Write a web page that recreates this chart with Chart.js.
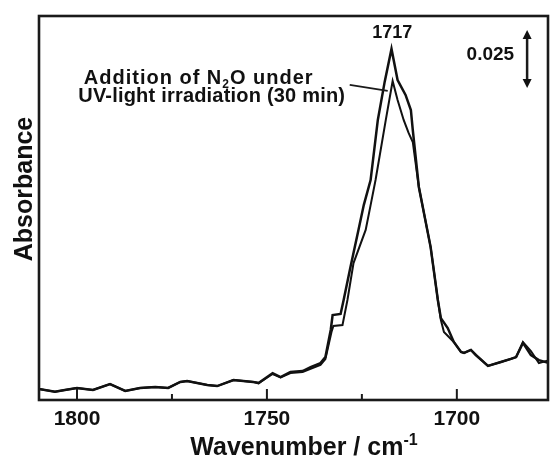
<!DOCTYPE html>
<html>
<head>
<meta charset="utf-8">
<script src="https://cdn.jsdelivr.net/npm/chart.js@4.4.1/dist/chart.umd.min.js"></script>
<style>
  html, body { margin: 0; padding: 0; background: #fff; }
  #wrap { width: 550px; height: 457px; }
</style>
</head>
<body>
<div id="wrap"><canvas id="irChart" width="550" height="457"></canvas></div>
<script>
// Spectrum data (wavenumber / cm-1, absorbance)
const wavenumberA = [1810, 1805.8, 1803.2, 1800, 1795.8, 1791.3, 1787.3, 1783.4, 1779.4, 1776,
  1772.8, 1771, 1765.7, 1763.1, 1758.8, 1753.6, 1752.2, 1748.5, 1746.4, 1743.8,
  1740.6, 1738.5, 1735.9, 1734.6, 1733.2, 1732.7, 1730.6, 1729.8, 1728.0, 1725.9,
  1724.5, 1722.7, 1720.8, 1719.0, 1717.2, 1715.6, 1713.5, 1712.1, 1711.6, 1710.0,
  1706.9, 1705.0, 1704.2, 1702.4, 1700.8, 1698.9, 1698.1, 1696.3, 1695.0, 1691.8,
  1688.4, 1685.8, 1684.4, 1682.6, 1680.5, 1678.4, 1675.7];
const absorbanceA = [0.0047, 0.0036, 0.0043, 0.0052, 0.0043, 0.0069, 0.0039, 0.0052, 0.0056, 0.0052,
  0.0078, 0.0082, 0.0065, 0.0060, 0.0086, 0.0078, 0.0073, 0.0116, 0.0099, 0.0121,
  0.0125, 0.0142, 0.0159, 0.0185, 0.0302, 0.0366, 0.0371, 0.0431, 0.0573, 0.0733,
  0.0840, 0.0948, 0.1207, 0.1371, 0.1513, 0.1379, 0.1315, 0.1250, 0.1164, 0.0918,
  0.0659, 0.0431, 0.0353, 0.0310, 0.0250, 0.0207, 0.0203, 0.0216, 0.0194, 0.0147,
  0.0164, 0.0177, 0.0185, 0.0246, 0.0194, 0.0172, 0.0159];

const wavenumberB = [1810, 1805.8, 1803.2, 1800, 1795.8, 1791.3, 1787.3, 1783.4, 1779.4, 1776,
  1772.8, 1771, 1765.7, 1763.1, 1758.8, 1753.6, 1752.2, 1748.5, 1746.4, 1743.8,
  1740.6, 1738.5, 1735.9, 1734.6, 1733.0, 1732.5, 1730.1, 1728.8, 1727.2, 1724.0,
  1722.7, 1721.4, 1718.7, 1716.9, 1715.6, 1714.0, 1712.7, 1711.6, 1710.0, 1706.9,
  1705.0, 1704.2, 1703.4, 1700.8, 1698.9, 1698.1, 1696.3, 1695.0, 1691.8, 1688.4,
  1685.8, 1684.4, 1682.6, 1680.5, 1678.4, 1675.7];
const absorbanceB = [0.0047, 0.0036, 0.0043, 0.0052, 0.0043, 0.0069, 0.0039, 0.0052, 0.0056, 0.0052,
  0.0078, 0.0082, 0.0065, 0.0060, 0.0086, 0.0078, 0.0073, 0.0112, 0.0097, 0.0116,
  0.0121, 0.0134, 0.0151, 0.0177, 0.0293, 0.0319, 0.0323, 0.0431, 0.0590, 0.0733,
  0.0840, 0.0948, 0.1207, 0.1375, 0.1293, 0.1207, 0.1151, 0.1112, 0.0918, 0.0659,
  0.0431, 0.0345, 0.0293, 0.0250, 0.0207, 0.0203, 0.0216, 0.0194, 0.0147, 0.0164,
  0.0177, 0.0185, 0.0250, 0.0211, 0.0159, 0.0172];

const peakPosition = 1717;
const scaleBarValue = 0.025;
const xRange = [1676, 1810];
const yRange = [0, 0.1655];

const FONT = '"Liberation Sans", Arial, sans-serif';
const toPoints = (xs, ys) => xs.map((v, i) => ({ x: v, y: ys[i] }));

// draws text runs (normal / sub / sup) centred on cx
function drawRuns(ctx, runs, cx, baseY, size, spacing) {
  ctx.letterSpacing = (spacing || 0) + 'px';
  let total = 0;
  runs.forEach(r => {
    ctx.font = 'bold ' + (r.small ? Math.round(size * 0.62) : size) + 'px ' + FONT;
    r.w = ctx.measureText(r.t).width;
    total += r.w;
  });
  let x = cx - total / 2;
  ctx.textAlign = 'left';
  ctx.textBaseline = 'alphabetic';
  runs.forEach(r => {
    ctx.font = 'bold ' + (r.small ? Math.round(size * 0.62) : size) + 'px ' + FONT;
    const dy = r.small === 'sub' ? size * 0.22 : r.small === 'sup' ? -size * 0.42 : 0;
    ctx.fillText(r.t, x, baseY + dy);
    x += r.w;
  });
  ctx.letterSpacing = '0px';
}

const decorations = {
  id: 'decorations',
  afterDraw(chart) {
    const { ctx, chartArea: a, scales: { x, y } } = chart;
    ctx.save();
    ctx.strokeStyle = '#1a1a1a';
    ctx.fillStyle = '#111';

    // frame
    ctx.lineWidth = 2.6;
    ctx.strokeRect(a.left, a.top, a.right - a.left, a.bottom - a.top);

    // inward ticks on the x axis
    ctx.lineWidth = 2;
    x.ticks.forEach(t => {
      const px = x.getPixelForValue(t.value);
      const len = t.value % 50 === 0 ? 11 : 6;
      ctx.beginPath();
      ctx.moveTo(px, a.bottom);
      ctx.lineTo(px, a.bottom - len);
      ctx.stroke();
    });

    // axis titles
    ctx.save();
    ctx.translate(25, 189);
    ctx.rotate(-Math.PI / 2);
    ctx.font = 'bold 25px ' + FONT;
    ctx.textAlign = 'center';
    ctx.textBaseline = 'middle';
    ctx.fillText('Absorbance', 0, 0);
    ctx.restore();
    drawRuns(ctx, [{ t: 'Wavenumber / cm' }, { t: '-1', small: 'sup' }], 304, 455, 25);

    // peak label
    ctx.font = 'bold 18px ' + FONT;
    ctx.textAlign = 'center';
    ctx.textBaseline = 'middle';
    const peakTop = Math.max(...absorbanceA);
    ctx.fillText(String(peakPosition), x.getPixelForValue(peakPosition), y.getPixelForValue(peakTop) - 16);

    // annotation with leader line
    const lx0 = x.getPixelForValue(1728.2), ly0 = y.getPixelForValue(0.1358);
    const lx1 = x.getPixelForValue(1718.2), ly1 = y.getPixelForValue(0.1332);
    ctx.lineWidth = 1.8;
    ctx.beginPath();
    ctx.moveTo(lx0, ly0);
    ctx.lineTo(lx1, ly1);
    ctx.stroke();
    drawRuns(ctx, [{ t: 'Addition of N' }, { t: '2', small: 'sub' }, { t: 'O under' }], lx0 - 151, 84, 20, 1);
    drawRuns(ctx, [{ t: 'UV-light irradiation (30 min)' }], lx0 - 138, 102, 20, 0.2);

    // scale bar
    const bx = x.getPixelForValue(1681.5);
    const yTop = y.getPixelForValue(0.1595);
    const yBot = y.getPixelForValue(0.1595 - scaleBarValue);
    ctx.lineWidth = 2.5;
    ctx.beginPath();
    ctx.moveTo(bx, yTop + 6);
    ctx.lineTo(bx, yBot - 6);
    ctx.stroke();
    ctx.beginPath();
    ctx.moveTo(bx, yTop); ctx.lineTo(bx - 4.5, yTop + 9); ctx.lineTo(bx + 4.5, yTop + 9); ctx.closePath();
    ctx.fill();
    ctx.beginPath();
    ctx.moveTo(bx, yBot); ctx.lineTo(bx - 4.5, yBot - 9); ctx.lineTo(bx + 4.5, yBot - 9); ctx.closePath();
    ctx.fill();
    ctx.font = 'bold 19px ' + FONT;
    ctx.textAlign = 'right';
    ctx.textBaseline = 'middle';
    ctx.fillText(String(scaleBarValue), bx - 13, (yTop + yBot) / 2 - 4);

    ctx.restore();
  }
};

const ctx = document.getElementById('irChart').getContext('2d');
new Chart(ctx, {
  type: 'line',
  data: {
    datasets: [{
      label: 'N2O + UV (30 min)',
      data: toPoints(wavenumberA, absorbanceA),
      borderColor: '#111',
      borderWidth: 2.5,
      pointRadius: 0,
      tension: 0,
      fill: false
    }, {
      label: 'reference',
      data: toPoints(wavenumberB, absorbanceB),
      borderColor: '#111',
      borderWidth: 2,
      pointRadius: 0,
      tension: 0,
      fill: false
    }]
  },
  options: {
    responsive: false,
    animation: false,
    devicePixelRatio: 1,
    layout: { padding: { top: 16, right: 2, left: 39, bottom: 0 } },
    plugins: { legend: { display: false }, tooltip: { enabled: false } },
    scales: {
      x: {
        type: 'linear',
        reverse: true,
        min: xRange[0],
        max: xRange[1],
        grid: { display: false, drawTicks: false },
        border: { display: false },
        afterFit: s => { s.height = 57; },
        ticks: {
          stepSize: 25,
          includeBounds: false,
          padding: 7,
          color: '#111',
          font: { family: FONT, size: 21, weight: 'bold' },
          callback: v => (v % 50 === 0 ? String(v) : '')
        }
      },
      y: {
        display: false,
        min: yRange[0],
        max: yRange[1]
      }
    }
  },
  plugins: [decorations]
});
</script>
</body>
</html>
